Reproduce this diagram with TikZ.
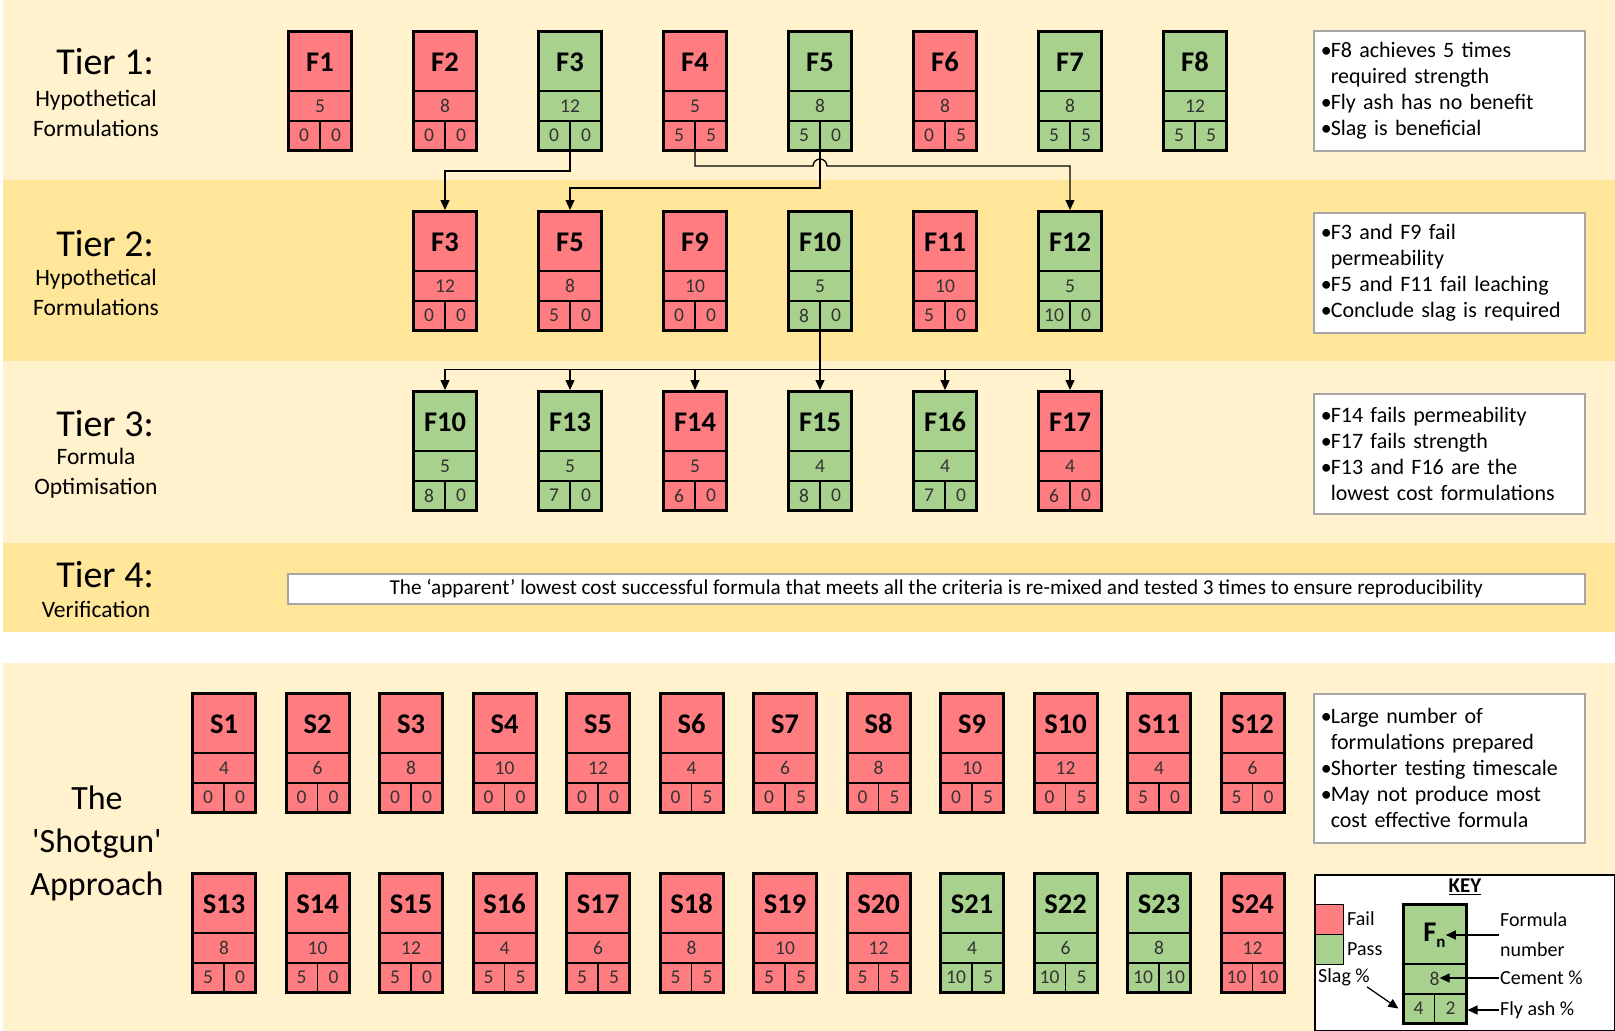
\documentclass[tikz,border=0pt]{standalone}
\usepackage{fontspec}
\setmainfont{Carlito}[Ligatures=TeXOff]
\usepackage{tikz}
\usetikzlibrary{arrows.meta, positioning, calc}

\definecolor{bandlight}{HTML}{FFF2CC}
\definecolor{banddark}{HTML}{FFE699}
\definecolor{failred}{HTML}{FF7C80}
\definecolor{passgreen}{HTML}{A9D18E}
\definecolor{boxgray}{HTML}{A6A6A6}

\newcommand{\bul}{\makebox[10pt][l]{•}}
\newcommand{\ind}{\hspace*{10pt}}

% one formulation card: name, x, top, label, cement, slag, fly ash, colour
\newcommand{\fcard}[8]{%
  \node[card, fill=#8] (#1) at (#2,#3+61) {};
  \draw[cell] (#1.west) -- (#1.east);
  \draw[cell] ([yshift=-30pt]#1.west) -- ([yshift=-30pt]#1.east);
  \draw[cell] ([yshift=-30pt]#1.center) -- (#1.south);
  \node[flabel] (#1-name) at ([yshift=29pt]#1.center) {#4};
  \node[fnum] (#1-cem) at ([yshift=-15pt]#1.center) {#5};
  \node[fnum] (#1-slag) at ([shift={(-16pt,-44.5pt)}]#1.center) {#6};
  \node[fnum] (#1-fly) at ([shift={(16pt,-44.5pt)}]#1.center) {#7};
}

\begin{document}
\begin{tikzpicture}[
  x=1pt, y=-1pt,
  >={Triangle[length=10pt, width=9pt]},
  card/.style={draw, line width=3pt, minimum width=63pt, minimum height=119pt, inner sep=0pt},
  cell/.style={line width=1.4pt},
  flabel/.style={font=\fontsize{28.5}{30}\selectfont\bfseries, inner sep=0pt},
  fnum/.style={font=\fontsize{19.5}{21}\selectfont, text=black!80, inner sep=0pt},
  link/.style={->, line width=1.3pt},
  tiertitle/.style={font=\fontsize{38}{43}\selectfont, align=center, inner sep=0pt},
  shotguntext/.style={font=\fontsize{34}{43}\selectfont, align=center, inner sep=0pt},
  tiersub/.style={font=\fontsize{23.5}{30}\selectfont, align=center, inner sep=0pt},
  note/.style={draw=boxgray, line width=1.5pt, fill=white, anchor=north west, minimum height=120pt,
    text width=257pt, inner xsep=7pt, align=left, font=\fontsize{22}{26}\selectfont},
  keytext/.style={font=\fontsize{20}{24}\selectfont, inner sep=1pt},
  keyarrow/.style={->, line width=1.3pt},
  swatch/.style={draw, line width=1pt, minimum width=28pt, minimum height=30pt, inner sep=0pt}
]
\useasboundingbox (0,0) rectangle (1615,1031);

% bands
\fill[bandlight] (3,0) rectangle (1615,180);
\fill[banddark] (3,180) rectangle (1615,361);
\fill[bandlight] (3,361) rectangle (1615,543);
\fill[banddark] (3,543) rectangle (1615,632);
\fill[bandlight] (3,663) rectangle (1615,1031);

% tier headings
\node[tiertitle] (tier1) at (105,62) {Tier 1:};
\node[tiersub] (tier1-sub) at (96,113) {Hypothetical\\Formulations};
\node[tiertitle] (tier2) at (105,244) {Tier 2:};
\node[tiersub] (tier2-sub) at (96,292) {Hypothetical\\Formulations};
\node[tiertitle] (tier3) at (105,424) {Tier 3:};
\node[tiersub] (tier3-sub) at (96,473) {Formula\\Optimisation};
\node[tiertitle] (tier4) at (105,575) {Tier 4:};
\node[tiersub] (tier4-sub) at (96,609) {Verification};
\node[shotguntext] (shotgun) at (97,843) {The\\'Shotgun'\\Approach};

% tier 1
\fcard{t1-f1}{320}{30}{F1}{5}{0}{0}{failred}
\fcard{t1-f2}{445}{30}{F2}{8}{0}{0}{failred}
\fcard{t1-f3}{570}{30}{F3}{12}{0}{0}{passgreen}
\fcard{t1-f4}{695}{30}{F4}{5}{5}{5}{failred}
\fcard{t1-f5}{820}{30}{F5}{8}{5}{0}{passgreen}
\fcard{t1-f6}{945}{30}{F6}{8}{0}{5}{failred}
\fcard{t1-f7}{1070}{30}{F7}{8}{5}{5}{passgreen}
\fcard{t1-f8}{1195}{30}{F8}{12}{5}{5}{passgreen}

% tier 2
\fcard{t2-f3}{445}{210}{F3}{12}{0}{0}{failred}
\fcard{t2-f5}{570}{210}{F5}{8}{5}{0}{failred}
\fcard{t2-f9}{695}{210}{F9}{10}{0}{0}{failred}
\fcard{t2-f10}{820}{210}{F10}{5}{8}{0}{passgreen}
\fcard{t2-f11}{945}{210}{F11}{10}{5}{0}{failred}
\fcard{t2-f12}{1070}{210}{F12}{5}{10}{0}{passgreen}

% tier 3
\fcard{t3-f10}{445}{390}{F10}{5}{8}{0}{passgreen}
\fcard{t3-f13}{570}{390}{F13}{5}{7}{0}{passgreen}
\fcard{t3-f14}{695}{390}{F14}{5}{6}{0}{failred}
\fcard{t3-f15}{820}{390}{F15}{4}{8}{0}{passgreen}
\fcard{t3-f16}{945}{390}{F16}{4}{7}{0}{passgreen}
\fcard{t3-f17}{1070}{390}{F17}{4}{6}{0}{failred}

% tier 1 -> tier 2
\draw[link] (t1-f3.south) -- ++(0,19) -| (t2-f3.north);
\draw[link] (t1-f4.south) -- ++(0,14) -- ++(118,0) arc[start angle=180, end angle=0, radius=7pt] -| (t2-f12.north);
\draw[link] (t1-f5.south) -- ++(0,36) -| (t2-f5.north);

% tier 2 -> tier 3
\coordinate (fork) at ($(t2-f10.south)+(0,37.5)$);
\draw[link] (t2-f10.south) -- (t3-f15.north);
\draw[link] (fork) -| (t3-f10.north);
\draw[link] (fork) -| (t3-f13.north);
\draw[link] (fork) -| (t3-f14.north);
\draw[link] (fork) -| (t3-f16.north);
\draw[link] (fork) -| (t3-f17.north);

% notes
\node[note] (note1) at (1313,30) {\bul F8 achieves 5 times\\\ind required strength\\\bul Fly ash has no benefit\\\bul Slag is beneficial};
\node[note] (note2) at (1313,212) {\bul F3 and F9 fail\\\ind permeability\\\bul F5 and F11 fail leaching\\\bul Conclude slag is required};
\node[note] (note3) at (1313,393) {\bul F14 fails permeability\\\bul F17 fails strength\\\bul F13 and F16 are the\\\ind lowest cost formulations};
\node[note, minimum height=149pt] (note5) at (1313,693) {\bul Large number of\\\ind formulations prepared\\\bul Shorter testing timescale\\\bul May not produce most\\\ind cost effective formula};
\node[draw=boxgray, line width=1.5pt, fill=white, anchor=north west, minimum width=1297pt, minimum height=30pt,
  inner sep=0pt, font=\fontsize{21.2}{24}\selectfont] (note4) at (287,573)
  {The ‘apparent’ lowest cost successful formula that meets all the criteria is re-mixed and tested 3 times to ensure reproducibility};

% shotgun row 1
\fcard{s1}{224}{692}{S1}{4}{0}{0}{failred}
\fcard{s2}{317.5}{692}{S2}{6}{0}{0}{failred}
\fcard{s3}{411}{692}{S3}{8}{0}{0}{failred}
\fcard{s4}{504.5}{692}{S4}{10}{0}{0}{failred}
\fcard{s5}{598}{692}{S5}{12}{0}{0}{failred}
\fcard{s6}{691.5}{692}{S6}{4}{0}{5}{failred}
\fcard{s7}{785}{692}{S7}{6}{0}{5}{failred}
\fcard{s8}{878.5}{692}{S8}{8}{0}{5}{failred}
\fcard{s9}{972}{692}{S9}{10}{0}{5}{failred}
\fcard{s10}{1065.5}{692}{S10}{12}{0}{5}{failred}
\fcard{s11}{1159}{692}{S11}{4}{5}{0}{failred}
\fcard{s12}{1252.5}{692}{S12}{6}{5}{0}{failred}

% shotgun row 2
\fcard{s13}{224}{872}{S13}{8}{5}{0}{failred}
\fcard{s14}{317.5}{872}{S14}{10}{5}{0}{failred}
\fcard{s15}{411}{872}{S15}{12}{5}{0}{failred}
\fcard{s16}{504.5}{872}{S16}{4}{5}{5}{failred}
\fcard{s17}{598}{872}{S17}{6}{5}{5}{failred}
\fcard{s18}{691.5}{872}{S18}{8}{5}{5}{failred}
\fcard{s19}{785}{872}{S19}{10}{5}{5}{failred}
\fcard{s20}{878.5}{872}{S20}{12}{5}{5}{failred}
\fcard{s21}{972}{872}{S21}{4}{10}{5}{passgreen}
\fcard{s22}{1065.5}{872}{S22}{6}{10}{5}{passgreen}
\fcard{s23}{1159}{872}{S23}{8}{10}{10}{passgreen}
\fcard{s24}{1252.5}{872}{S24}{12}{10}{10}{failred}

% key
\node[draw, line width=2pt, fill=white, minimum width=300pt, minimum height=156pt, anchor=north west, inner sep=0pt] (keybox) at (1314,874) {};
\node[font=\fontsize{21}{24}\selectfont\bfseries] (keytitle) at (1465,887) {\underline{KEY}};
\node[swatch, fill=failred] (kfail) at (1329,919) {};
\node[swatch, fill=passgreen] (kpass) at (1329,949) {};
\node[keytext, anchor=west] (kfailtext) at (1346,919) {Fail};
\node[keytext, anchor=west] (kpasstext) at (1346,949) {Pass};
\fcard{keycard}{1434.5}{903}{F\raisebox{-6pt}{\fontsize{17}{17}\selectfont n}}{8}{4}{2}{passgreen}
\node[keytext, anchor=west] (kformula) at (1499,920) {Formula};
\node[keytext, anchor=west] (knumber) at (1499,950) {number};
\node[keytext, anchor=west] (kcement) at (1499,978) {Cement \%};
\node[keytext, anchor=west] (kflyash) at (1499,1010) {Fly ash \%};
\node[keytext, anchor=west] (kslag) at (1317,977) {Slag \%};
\coordinate (slagtip) at ([xshift=-15pt]keycard-slag.west);
\draw[keyarrow] (kformula.west |- keycard-name.east) -- (keycard-name.east);
\draw[keyarrow] (kcement.west) -- (kcement.west -| keycard-cem.east);
\draw[keyarrow] (kflyash.west) -- (kflyash.west -| keycard.east);
\draw[keyarrow] ([xshift=-4pt]kslag.south east) -- (slagtip);
\end{tikzpicture}
\end{document}
